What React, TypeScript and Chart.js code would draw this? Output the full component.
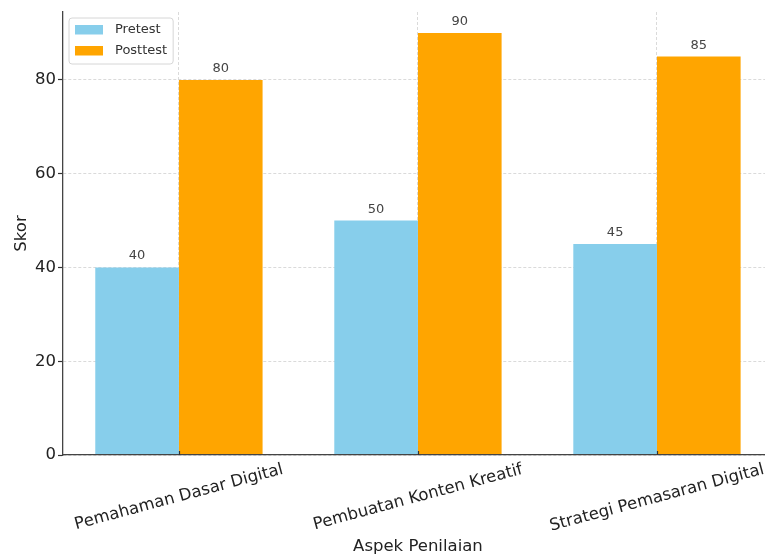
import React, { useEffect, useRef } from "react";
import { Chart, registerables } from "chart.js";

Chart.register(...registerables);

const categories = ["Pemahaman Dasar Digital", "Pembuatan Konten Kreatif", "Strategi Pemasaran Digital"];
const seriesNames = ["Pretest", "Posttest"];
const pretest = [40, 50, 45];
const posttest = [80, 90, 85];
const seriesColors = ["#87CEEB", "#FFA500"];
const yTickValues = [0, 20, 40, 60, 80];
const xTitle = "Aspek Penilaian";
const yTitle = "Skor";

const FONT = '"DejaVu Sans", "Liberation Sans", sans-serif';

const overlayPlugin = {
  id: "overlay",
  afterDatasetsDraw(chart: any) {
    const ctx = chart.ctx;
    ctx.save();
    ctx.font = `13px ${FONT}`;
    ctx.fillStyle = "#444";
    ctx.textAlign = "center";
    ctx.textBaseline = "alphabetic";
    chart.data.datasets.forEach((ds: any, di: number) => {
      const meta = chart.getDatasetMeta(di);
      meta.data.forEach((el: any, i: number) => {
        ctx.fillText(String(ds.data[i].y), el.x, el.y - 8);
      });
    });
    ctx.restore();
  },
  afterDraw(chart: any) {
    const { ctx, chartArea, scales } = chart;
    const xs = scales.x;
    const ang = (15 * Math.PI) / 180;
    ctx.save();
    // small category tick marks
    ctx.strokeStyle = "#333";
    ctx.lineWidth = 1.2;
    categories.forEach((_, i) => {
      const px = Math.round(xs.getPixelForValue(i)) + 0.5;
      ctx.beginPath();
      ctx.moveTo(px, chartArea.bottom);
      ctx.lineTo(px, chartArea.bottom - 4);
      ctx.stroke();
    });
    // x tick labels (rotated, centered like matplotlib)
    const fs = 16.5;
    ctx.font = `${fs}px ${FONT}`;
    ctx.fillStyle = "#222";
    ctx.textAlign = "center";
    ctx.textBaseline = "middle";
    let maxBottom = chartArea.bottom;
    categories.forEach((c, i) => {
      const px = xs.getPixelForValue(i);
      const w = ctx.measureText(c).width;
      const h = fs * 1.17;
      const bh = w * Math.sin(ang) + h * Math.cos(ang);
      const top = chartArea.bottom + 5;
      const cy = top + bh / 2;
      maxBottom = Math.max(maxBottom, top + bh);
      ctx.save();
      ctx.translate(px, cy);
      ctx.rotate(-ang);
      ctx.fillText(c, 0, 0);
      ctx.restore();
    });
    // axis titles
    ctx.fillStyle = "#222";
    ctx.textBaseline = "middle";
    ctx.fillText(xTitle, xs.getPixelForValue(1), maxBottom + 11);
    ctx.save();
    ctx.translate(22, (chartArea.top + chartArea.bottom) / 2);
    ctx.rotate(-Math.PI / 2);
    ctx.fillText(yTitle, 0, 0);
    ctx.restore();

    // legend
    ctx.font = `13px ${FONT}`;
    const left = chartArea.left + 6;
    const top = chartArea.top + 6;
    const textW = Math.max(...seriesNames.map((s) => ctx.measureText(s).width));
    const bw = 46 + textW + 6;
    const bhgt = 46;
    ctx.beginPath();
    const r = 3;
    ctx.moveTo(left + r, top);
    ctx.lineTo(left + bw - r, top);
    ctx.arcTo(left + bw, top, left + bw, top + r, r);
    ctx.lineTo(left + bw, top + bhgt - r);
    ctx.arcTo(left + bw, top + bhgt, left + bw - r, top + bhgt, r);
    ctx.lineTo(left + r, top + bhgt);
    ctx.arcTo(left, top + bhgt, left, top + bhgt - r, r);
    ctx.lineTo(left, top + r);
    ctx.arcTo(left, top, left + r, top, r);
    ctx.closePath();
    ctx.fillStyle = "rgba(255,255,255,0.8)";
    ctx.fill();
    ctx.strokeStyle = "#d6d6d6";
    ctx.lineWidth = 1;
    ctx.stroke();
    chart.data.datasets.forEach((ds: any, i: number) => {
      const cy = top + 11.5 + i * 21;
      ctx.fillStyle = ds.backgroundColor;
      ctx.fillRect(left + 6, cy - 4.5, 28, 9.5);
      ctx.fillStyle = "#333";
      ctx.textAlign = "left";
      ctx.textBaseline = "middle";
      ctx.fillText(ds.label, left + 46, cy);
    });
    ctx.restore();
  },
};

export default function App() {
  const ref = useRef<HTMLCanvasElement>(null);
  useEffect(() => {
    const chart = new Chart(ref.current as HTMLCanvasElement, {
      type: "bar",
      data: {
        labels: categories,
        datasets: [
          {
            label: seriesNames[0],
            data: pretest.map((v, i) => ({ x: i, y: v })),
            backgroundColor: seriesColors[0],
            borderWidth: 0,
          },
          {
            label: seriesNames[1],
            data: posttest.map((v, i) => ({ x: i, y: v })),
            backgroundColor: seriesColors[1],
            borderWidth: 0,
          },
        ],
      } as any,
      options: {
        animation: false,
        responsive: false,
        events: [],
        layout: { padding: { top: 12, left: 0, right: 0, bottom: 0 } },
        datasets: { bar: { categoryPercentage: 0.7, barPercentage: 1.0 } } as any,
        plugins: { legend: { display: false }, tooltip: { enabled: false }, title: { display: false } },
        scales: {
          x: {
            type: "linear",
            offset: false,
            bounds: "data",
            min: -0.485,
            max: 2.452,
            afterBuildTicks: (scale: any) => {
              scale.ticks = categories.map((_, i) => ({ value: i }));
            },
            afterFit: (scale: any) => {
              scale.height = 100;
            },
            ticks: { display: false },
            grid: { offset: false, drawTicks: false, color: "#d0d0d0", lineWidth: 0.8 },
            border: { display: true, color: "#444", width: 1.3, dash: [3, 2], z: 1 },
          },
          y: {
            type: "linear",
            bounds: "data",
            min: 0,
            max: 94.5,
            afterBuildTicks: (scale: any) => {
              scale.ticks = yTickValues.map((v) => ({ value: v }));
            },
            afterFit: (scale: any) => {
              scale.width = 63;
            },
            ticks: { font: { family: FONT, size: 16.5 }, color: "#222", padding: 2 },
            grid: {
              color: "#d0d0d0",
              lineWidth: 0.8,
              tickLength: 5,
              tickColor: "#333",
              tickWidth: 1.2,
            },
            border: { display: true, color: "#444", width: 1.3, dash: [3, 2], z: 1 },
          },
        },
      } as any,
      plugins: [overlayPlugin],
    });
    return () => chart.destroy();
  }, []);
  return (
    <div style={{ position: "fixed", left: 0, top: 0, width: 765, height: 555, background: "#fff" }}>
      <canvas ref={ref} width={765} height={555} style={{ width: 765, height: 555, display: "block" }} />
    </div>
  );
}
